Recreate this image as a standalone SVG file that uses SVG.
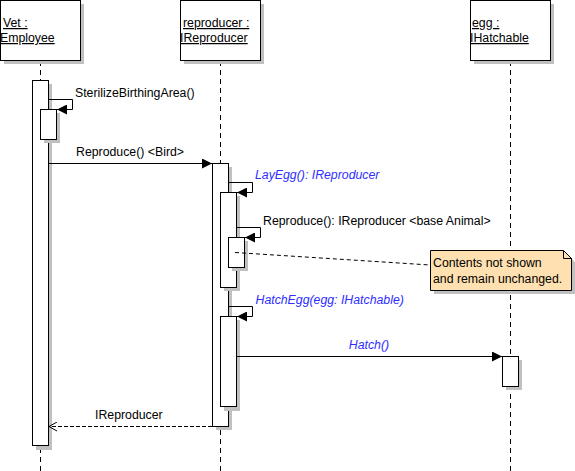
<svg xmlns="http://www.w3.org/2000/svg" width="575" height="471" viewBox="0 0 575 471">
<defs>
<marker id="fill" markerUnits="userSpaceOnUse" markerWidth="10" markerHeight="10" refX="10" refY="5" orient="auto"><path d="M0,0 L10,5 L0,10 z" fill="#000"/></marker>
<marker id="open" markerUnits="userSpaceOnUse" markerWidth="10" markerHeight="10" refX="9" refY="5" orient="auto"><path d="M1,0.5 L9,5 L1,9.5" fill="none" stroke="#000" stroke-width="1"/></marker>
</defs>
<style>
text{font-family:"Liberation Sans",Arial,sans-serif;font-size:12.3px;fill:#000}
.hdr{text-decoration:underline}
.blue{fill:#2e2eff;font-style:italic}
.box{fill:#fff;stroke:#000;stroke-width:1}
.shadow{fill:#c0c0c0;stroke:none}
.life{stroke:#000;stroke-width:1;stroke-dasharray:5,4;fill:none}
.msg{stroke:#000;stroke-width:1;fill:none;marker-end:url(#fill)}
.ret{stroke:#000;stroke-width:1;fill:none;stroke-dasharray:4,2;marker-end:url(#open)}
.anchor{stroke:#000;stroke-width:1;fill:none;stroke-dasharray:4,3}
</style>

<g id="lifelines">
<line class="life" x1="40.5" y1="61" x2="40.5" y2="471"/>
<line class="life" x1="220.5" y1="61" x2="220.5" y2="471"/>
<line class="life" x1="510.5" y1="61" x2="510.5" y2="471"/>
</g>

<g id="vet">
<rect class="shadow" x="4" y="4" width="80" height="60"/>
<rect class="box" x="0.5" y="0.5" width="80" height="60"/>
<text class="hdr" x="3" y="27">Vet :</text>
<text class="hdr" x="0" y="42">Employee</text>
</g>
<g id="reproducer">
<rect class="shadow" x="184" y="4" width="80" height="60"/>
<rect class="box" x="180.5" y="0.5" width="80" height="60"/>
<text class="hdr" x="183" y="27">reproducer :</text>
<text class="hdr" x="180" y="42">IReproducer</text>
</g>
<g id="egg">
<rect class="shadow" x="474" y="4" width="80" height="60"/>
<rect class="box" x="470.5" y="0.5" width="80" height="60"/>
<text class="hdr" x="472" y="27">egg :</text>
<text class="hdr" x="470" y="42">IHatchable</text>
</g>

<g id="activations">
<rect class="shadow" x="36" y="84" width="16" height="366"/>
<rect class="box" x="32.5" y="80.5" width="16" height="365"/>
<rect class="shadow" x="44" y="113" width="16" height="30"/>
<rect class="box" x="40.5" y="109.5" width="16" height="30"/>
<rect class="shadow" x="216" y="167" width="16" height="263"/>
<rect class="box" x="212.5" y="163.5" width="16" height="263"/>
<rect class="shadow" x="224" y="196" width="16" height="95"/>
<rect class="box" x="220.5" y="192.5" width="16" height="95"/>
<rect class="shadow" x="232" y="241" width="16" height="30"/>
<rect class="box" x="228.5" y="237.5" width="16" height="30"/>
<rect class="shadow" x="224" y="320" width="16" height="91"/>
<rect class="box" x="220.5" y="316.5" width="16" height="90"/>
<rect class="shadow" x="506" y="360" width="16" height="30"/>
<rect class="box" x="502.5" y="356.5" width="16" height="30"/>
</g>

<g id="note">
<path class="shadow" d="M434,254 H567 L575,262 V294 H434 Z"/>
<path d="M430.5,250.5 H563.5 L571.5,258.5 V290.5 H430.5 Z" fill="#ffe0b0" stroke="#000" stroke-width="1"/>
<path d="M563.5,250.5 V258.5 H571.5" fill="none" stroke="#000" stroke-width="1"/>
<text x="433" y="267">Contents not shown</text>
<text x="433" y="283">and remain unchanged.</text>
</g>

<g id="connectors">
<path class="msg" d="M48.5,99.5 H72.5 V109.5 H57"/>
<text x="75" y="97">SterilizeBirthingArea()</text>
<line class="msg" x1="48.5" y1="163.5" x2="212" y2="163.5"/>
<text x="76" y="156">Reproduce() &lt;Bird&gt;</text>
<path class="msg" d="M228.5,182.5 H252.5 V192.5 H237"/>
<text class="blue" x="255" y="179">LayEgg(): IReproducer</text>
<path class="msg" d="M236.5,227.5 H260.5 V237.5 H245"/>
<text x="263" y="225">Reproduce(): IReproducer &lt;base Animal&gt;</text>
<path class="anchor" d="M235,252.5 L430,265"/>
<path class="msg" d="M228.5,306.5 H252.5 V316.5 H237"/>
<text class="blue" x="255.5" y="304">HatchEgg(egg: IHatchable)</text>
<line class="msg" x1="236.5" y1="356.5" x2="502" y2="356.5"/>
<text class="blue" x="369" y="349" text-anchor="middle">Hatch()</text>
<line class="ret" x1="212" y1="426.5" x2="49" y2="426.5"/>
<text x="95" y="419">IReproducer</text>
</g>
</svg>
